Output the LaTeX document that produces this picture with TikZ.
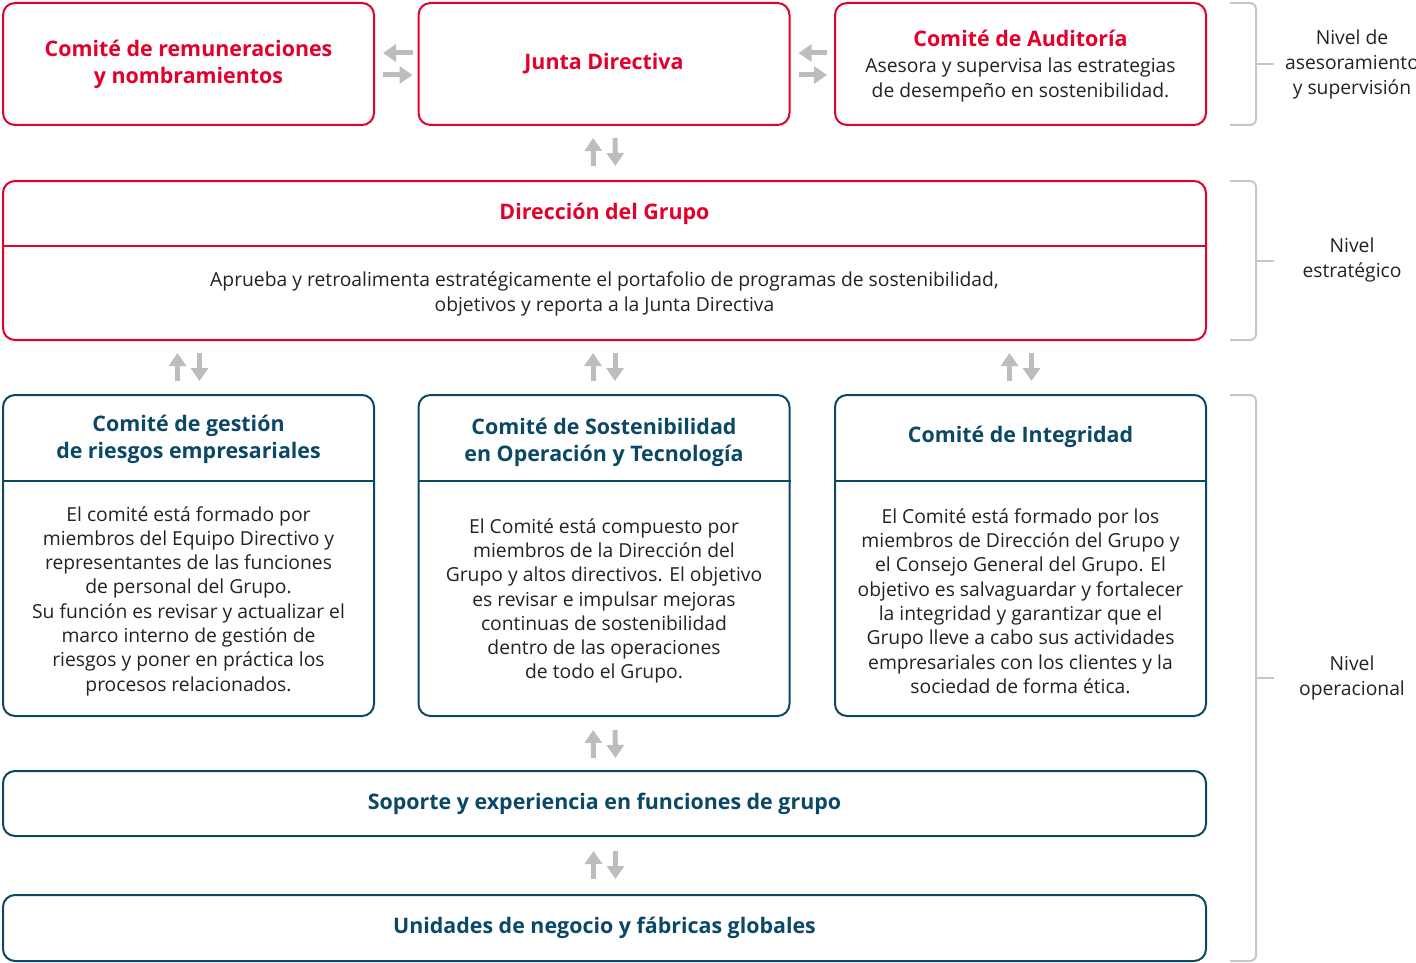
\documentclass[tikz,border=0pt]{standalone}
\usepackage{fontspec}
\setmainfont{Open Sans}
\usetikzlibrary{arrows.meta,positioning}
\definecolor{rojo}{HTML}{E3002B}
\definecolor{azul}{HTML}{0B4866}
\definecolor{gris}{HTML}{BDBDBD}
\definecolor{texto}{HTML}{222222}

\begin{document}
\begin{tikzpicture}[x=1pt,y=-1pt,
  red box/.style={draw=rojo,line width=2pt,rounded corners=12pt,minimum width=371pt,minimum height=122pt},
  blue box/.style={draw=azul,line width=2pt,rounded corners=12pt,minimum width=371pt,minimum height=321pt},
  wide box/.style={draw=azul,line width=2pt,rounded corners=12pt,minimum width=1203pt,minimum height=65pt},
  red title/.style={text=rojo,align=center,font=\fontsize{21.4}{27}\selectfont\bfseries},
  blue title/.style={text=azul,align=center,font=\fontsize{21.4}{27}\selectfont\bfseries},
  body text/.style={text=texto,align=center,font=\fontsize{19.3}{24.3}\selectfont},
  level text/.style={text=texto,align=center,font=\fontsize{19.3}{25}\selectfont},
  flecha/.style={draw=gris,line width=5pt,-{Triangle[width=17pt,length=13pt]}},
  bracket/.style={draw=gris!85,line width=2pt,rounded corners=6pt}]

  \useasboundingbox (0,0) rectangle (1416,963);

  % nivel de asesoramiento
  \node[red box] (remun) at (188.5,64) {};
  \node[red box] (junta) at (604,64) {};
  \node[red box] (audit) at (1020.5,64) {};
  \node[red title] at (remun.center) {Comité de remuneraciones\\y nombramientos};
  \node[red title] at (junta.center) {Junta Directiva};
  \node[red title] (auditT) at (1020.5,38) {Comité de Auditoría};
  \node[body text] at (1020.5,80) {Asesora y supervisa las estrategias\\de desempeño en sostenibilidad.};

  % nivel estrategico
  \node[red box,minimum width=1203pt,minimum height=159pt] (direccion) at (604.5,260.5) {};
  \draw[rojo,line width=2pt] ([yshift=-66pt]direccion.north west) -- ([yshift=-66pt]direccion.north east);
  \node[red title] at (604.5,214) {Dirección del Grupo};
  \node[body text] at (604.5,294) {Aprueba y retroalimenta estratégicamente el portafolio de programas de sostenibilidad,\\objetivos y reporta a la Junta Directiva};

  % nivel operacional
  \node[blue box] (riesgos) at (188.5,555.5) {};
  \node[blue box] (sosten) at (604,555.5) {};
  \node[blue box] (integ) at (1020.5,555.5) {};
  \foreach \b in {riesgos,sosten,integ}
    \draw[azul,line width=2pt] ([yshift=-87pt]\b.north west) -- ([yshift=-87pt]\b.north east);

  \node[blue title] at (188.5,439) {Comité de gestión\\de riesgos empresariales};
  \node[blue title] at (604,442) {Comité de Sostenibilidad\\en Operación y Tecnología};
  \node[blue title] at (1020.5,437) {Comité de Integridad};

  \node[body text] at (188.5,601) {El comité está formado por\\miembros del Equipo Directivo y\\representantes de las funciones\\de personal del Grupo.\\Su función es revisar y actualizar el\\marco interno de gestión de\\riesgos y poner en práctica los\\procesos relacionados.};
  \node[body text] at (604,601) {El Comité está compuesto por\\miembros de la Dirección del\\Grupo y altos directivos. El objetivo\\es revisar e impulsar mejoras\\continuas de sostenibilidad\\dentro de las operaciones\\de todo el Grupo.};
  \node[body text] at (1020.5,601) {El Comité está formado por los\\miembros de Dirección del Grupo y\\el Consejo General del Grupo. El\\objetivo es salvaguardar y fortalecer\\la integridad y garantizar que el\\Grupo lleve a cabo sus actividades\\empresariales con los clientes y la\\sociedad de forma ética.};

  \node[wide box] (soporte) at (604.5,803.5) {};
  \node[wide box,minimum height=66pt] (unidades) at (604.5,928) {};
  \node[blue title] at (soporte.center) {Soporte y experiencia en funciones de grupo};
  \node[blue title] at (unidades.center) {Unidades de negocio y fábricas globales};

  % flechas
  \draw[flecha,shorten <=5pt,shorten >=8pt] ([yshift=11pt]junta.west) -- ([yshift=11pt]remun.east);
  \draw[flecha,shorten <=8pt,shorten >=5pt] ([yshift=-11pt]remun.east) -- ([yshift=-11pt]junta.west);
  \draw[flecha,shorten <=7pt,shorten >=8pt] ([yshift=11pt]audit.west) -- ([yshift=11pt]junta.east);
  \draw[flecha,shorten <=8pt,shorten >=7pt] ([yshift=-11pt]junta.east) -- ([yshift=-11pt]audit.west);

  \draw[flecha,shorten <=14pt,shorten >=12pt] ([xshift=-11pt]direccion.north) -- ([xshift=-11pt]junta.south);
  \draw[flecha,shorten <=12pt,shorten >=14pt] ([xshift=11pt]junta.south) -- ([xshift=11pt]direccion.north);

  \foreach \b in {riesgos,sosten,integ} {
    \draw[flecha,shorten <=13pt,shorten >=12pt] ([xshift=-11pt]\b.north) -- ([xshift=-11pt]\b.north |- direccion.south);
    \draw[flecha,shorten <=12pt,shorten >=13pt] ([xshift=11pt]\b.north |- direccion.south) -- ([xshift=11pt]\b.north);
  }

  \draw[flecha,shorten <=12pt,shorten >=13pt] ([xshift=-11pt]soporte.north) -- ([xshift=-11pt]sosten.south);
  \draw[flecha,shorten <=13pt,shorten >=12pt] ([xshift=11pt]sosten.south) -- ([xshift=11pt]soporte.north);
  \draw[flecha,shorten <=15pt,shorten >=14pt] ([xshift=-11pt]unidades.north) -- ([xshift=-11pt]soporte.south);
  \draw[flecha,shorten <=14pt,shorten >=15pt] ([xshift=11pt]soporte.south) -- ([xshift=11pt]unidades.north);

  % niveles
  \draw[bracket] (1230,3) -- (1256,3) -- (1256,125) -- (1230,125);
  \draw[bracket] (1256,64) -- (1274,64);
  \draw[bracket] (1230,181) -- (1256,181) -- (1256,340) -- (1230,340);
  \draw[bracket] (1256,261) -- (1274,261);
  \draw[bracket] (1230,395) -- (1256,395) -- (1256,961) -- (1230,961);
  \draw[bracket] (1256,678) -- (1274,678);

  \node[level text] (asesor) at (1352,64) {Nivel de\\asesoramiento\\y supervisión};
  \node[level text] (estrat) at (1352,260) {Nivel\\estratégico};
  \node[level text] (operac) at (1352,678) {Nivel\\operacional};
\end{tikzpicture}
\end{document}
